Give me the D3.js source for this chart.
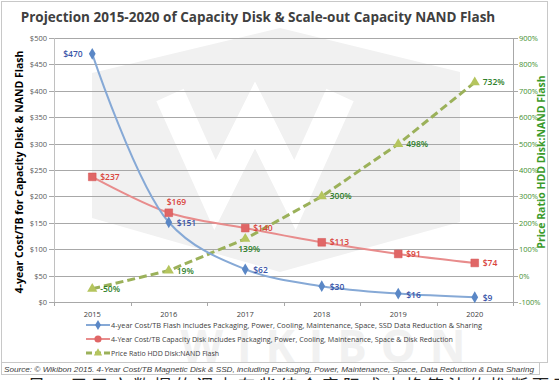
<!DOCTYPE html>
<html><head><meta charset="utf-8">
<script src="https://cdn.jsdelivr.net/npm/d3@7"></script>
<style>body{margin:0;background:#fff}svg{display:block}</style>
</head><body>
<svg id="c" width="559" height="380"></svg>
<script>
const years = ["2015","2016","2017","2018","2019","2020"];
const flashCost = [470,151,62,30,16,9];
const diskCost = [237,169,140,113,91,74];
const priceRatio = [-50,19,139,300,498,732];
const leftTicks = [0,50,100,150,200,250,300,350,400,450,500];
const rightTicks = [-100,0,100,200,300,400,500,600,700,800,900];
const legendNames = [
 "4-year Cost/TB Flash includes Packaging, Power, Cooling, Maintenance, Space, SSD Data Reduction & Sharing",
 "4-Year Cost/TB Capacity Disk includes Packaging, Power, Cooling, Maintenance, Space & Disk Reduction",
 "Price Ratio HDD Disk:NAND Flash"];
const title = "Projection 2015-2020 of Capacity Disk & Scale-out Capacity NAND Flash";
const leftTitle = "4-year Cost/TB for Capacity Disk & NAND Flash";
const rightTitle = "Price Ratio HDD Disk:NAND Flash";
const source = "Source: © Wikibon 2015. 4-Year Cost/TB Magnetic Disk & SSD, including Packaging, Power, Maintenance, Space, Data Reduction & Data Sharing";
const footer = "另一用于文数据的调查有些结合实际成本换算法的推断而已，此外，将估本而一假本出现";

const svg = d3.select("#c");
const font = "'Open Sans', 'Liberation Sans', sans-serif";
const L=54, R=513, T=38, B=302;
const x = d3.scaleBand().domain(years).range([L,R]).padding(0);
const cx = d => x(d)+x.bandwidth()/2;
const yL = d3.scaleLinear().domain([0,500]).range([B,T]);
const yR = d3.scaleLinear().domain([-100,900]).range([B,T]);

// frame
svg.append("rect").attr("x",1.5).attr("y",1.5).attr("width",546).attr("height",361).attr("fill","#fff").attr("stroke","#c8c8c8");

// watermark
const wm = svg.append("g");
wm.append("polygon").attr("points",[[92,73],[280,28],[460,72],[460,222],[280,272],[92,218]].map(p=>p.join(",")).join(" ")).attr("fill","#f1f1f1");
wm.append("polyline").attr("points","170,95 215,195 255,115 295,195 340,95").attr("fill","none").attr("stroke","#fff").attr("stroke-width",30).attr("stroke-linejoin","miter");
wm.append("text").attr("x",330).attr("y",362).attr("text-anchor","middle").attr("font-family",font).attr("font-size",44).attr("font-weight","bold").attr("letter-spacing",14).attr("fill","#f1f1f1").text("WIKIBON");

// gridlines
svg.append("g").selectAll("line").data(leftTicks).join("line")
 .attr("x1",L-5).attr("x2",R).attr("y1",d=>Math.round(yL(d))+0.5).attr("y2",d=>Math.round(yL(d))+0.5)
 .attr("stroke","#a8a8a8").attr("stroke-width",1);
svg.append("g").selectAll("line").data(rightTicks).join("line")
 .attr("x1",R).attr("x2",R+5).attr("y1",d=>Math.round(yR(d))+0.5).attr("y2",d=>Math.round(yR(d))+0.5)
 .attr("stroke","#a8a8a8");
svg.append("line").attr("x1",L+0.5).attr("x2",L+0.5).attr("y1",T).attr("y2",B).attr("stroke","#c0c0c0");
svg.append("line").attr("x1",R+0.5).attr("x2",R+0.5).attr("y1",T).attr("y2",B).attr("stroke","#a8a8a8");
svg.append("g").selectAll("line").data(years.concat(["end"])).join("line")
 .attr("x1",(d,i)=>Math.round(L+i*x.bandwidth())+0.5).attr("x2",(d,i)=>Math.round(L+i*x.bandwidth())+0.5)
 .attr("y1",B).attr("y2",B+4).attr("stroke","#a8a8a8");

// axis labels
svg.append("g").selectAll("text").data(leftTicks).join("text")
 .attr("x",L-7).attr("y",d=>yL(d)+3).attr("text-anchor","end").attr("font-family",font).attr("font-size",7.5).attr("fill","#595959").text(d=>"$"+d);
svg.append("g").selectAll("text").data(rightTicks).join("text")
 .attr("x",R+6).attr("y",d=>yR(d)+3).attr("text-anchor","start").attr("font-family",font).attr("font-size",7.5).attr("fill","#3f8f2f").text(d=>d+"%");
svg.append("g").selectAll("text").data(years).join("text")
 .attr("x",d=>cx(d)).attr("y",B+15).attr("text-anchor","middle").attr("font-family",font).attr("font-size",7.5).attr("fill","#404040").text(d=>d);

// titles
svg.append("text").attr("x",258).attr("y",22).attr("text-anchor","middle").attr("font-family",font).attr("font-size",13.5).attr("font-weight","bold").attr("fill","#404040").text(title);
svg.append("text").attr("transform","translate(23,172) rotate(-90)").attr("text-anchor","middle").attr("font-family",font).attr("font-size",10.5).attr("font-weight","bold").attr("fill","#000").text(leftTitle);
svg.append("text").attr("transform","translate(545,162) rotate(-90)").attr("text-anchor","middle").attr("font-family",font).attr("font-size",10.5).attr("font-weight","bold").attr("fill","#3a9a2a").text(rightTitle);

// series
const lineFlash = d3.line().x((d,i)=>cx(years[i])).y(d=>yL(d)).curve(d3.curveCatmullRom.alpha(0.5));
const lineDisk = d3.line().x((d,i)=>cx(years[i])).y(d=>yL(d)).curve(d3.curveCatmullRom.alpha(0.5));
const lineRatio = d3.line().x((d,i)=>cx(years[i])).y(d=>yR(d));

svg.append("path").attr("d",lineRatio(priceRatio)).attr("fill","none").attr("stroke","#9bb15a").attr("stroke-width",3).attr("stroke-dasharray","8,4");
svg.append("path").attr("d",lineDisk(diskCost)).attr("fill","none").attr("stroke","#e88c8c").attr("stroke-width",2);
svg.append("path").attr("d",lineFlash(flashCost)).attr("fill","none").attr("stroke","#86a9d6").attr("stroke-width",2);

const sym = (type,size)=>d3.symbol().type(type).size(size)();
svg.append("g").selectAll("path").data(priceRatio).join("path")
 .attr("transform",(d,i)=>`translate(${cx(years[i])},${yR(d)})`).attr("d",sym(d3.symbolTriangle,45)).attr("fill","#b5c55e");
svg.append("g").selectAll("path").data(diskCost).join("path")
 .attr("transform",(d,i)=>`translate(${cx(years[i])},${yL(d)})`).attr("d",sym(d3.symbolSquare,60)).attr("fill","#e06666").attr("stroke","#d45050").attr("stroke-width",0.5);
svg.append("g").selectAll("path").data(flashCost).join("path")
 .attr("transform",(d,i)=>`translate(${cx(years[i])},${yL(d)})`).attr("d",sym(d3.symbolDiamond,40)).attr("fill","#5a87c6");

// data labels
const flashOff = [[-29,3],[8,4],[8,4],[8,4],[8,4],[8,4]];
const diskOff = [[8,3],[-2,-8],[8,3],[8,3],[8,3],[8,3]];
const ratioOff = [[8,3],[8,3],[-7,13],[8,3],[8,3],[8,3]];
const lab = (data,scale,off,fmt,col)=> svg.append("g").selectAll("text").data(data).join("text")
 .attr("x",(d,i)=>cx(years[i])+off[i][0]).attr("y",(d,i)=>scale(d)+off[i][1])
 .attr("font-family",font).attr("font-size",8.5).attr("font-weight","600").attr("fill",col).text(fmt);
lab(flashCost,yL,flashOff,d=>"$"+d,"#3a55a8");
lab(diskCost,yL,diskOff,d=>"$"+d,"#d9443c");
lab(priceRatio,yR,ratioOff,d=>d+"%","#2f7f2a");

// legend
const legY = [325,339,353];
const lg = svg.append("g");
legY.forEach((yy,i)=>{
  const col = ["#86a9d6","#e88c8c","#9bb15a"][i];
  lg.append("line").attr("x1",86).attr("x2",110).attr("y1",yy).attr("y2",yy).attr("stroke",col).attr("stroke-width",i==2?3:2).attr("stroke-dasharray",i==2?"6,3":null);
  const t = i==0?d3.symbolDiamond:(i==1?d3.symbolCircle:d3.symbolTriangle);
  const f = ["#5a87c6","#e06666","#b5c55e"][i];
  lg.append("path").attr("transform",`translate(98,${yy})`).attr("d",sym(t,i==1?40:30)).attr("fill",f);
});
lg.selectAll("text").data(legendNames).join("text")
 .attr("x",111).attr("y",(d,i)=>legY[i]+2.5).attr("font-family",font).attr("font-size",7).attr("fill","#404040")
 .each(function(d,i){ if(i<2) d3.select(this).attr("textLength",[371,342][i]).attr("lengthAdjust","spacingAndGlyphs"); })
 .text(d=>d);

// source
svg.append("rect").attr("x",1.5).attr("y",362.5).attr("width",538).attr("height",12).attr("fill","#fff").attr("stroke","#c8c8c8");
svg.append("text").attr("x",4).attr("y",371.5).attr("font-family","'Liberation Sans', Arial, sans-serif").attr("font-size",8).attr("font-style","italic").attr("fill","#404040")
 .attr("textLength",530).attr("lengthAdjust","spacingAndGlyphs").text(source);
svg.append("text").attr("x",28).attr("y",392).attr("font-family","'Noto Sans CJK SC', sans-serif").attr("font-size",17).attr("fill","#222").attr("letter-spacing",4).text(footer);
</script>
</body></html>
